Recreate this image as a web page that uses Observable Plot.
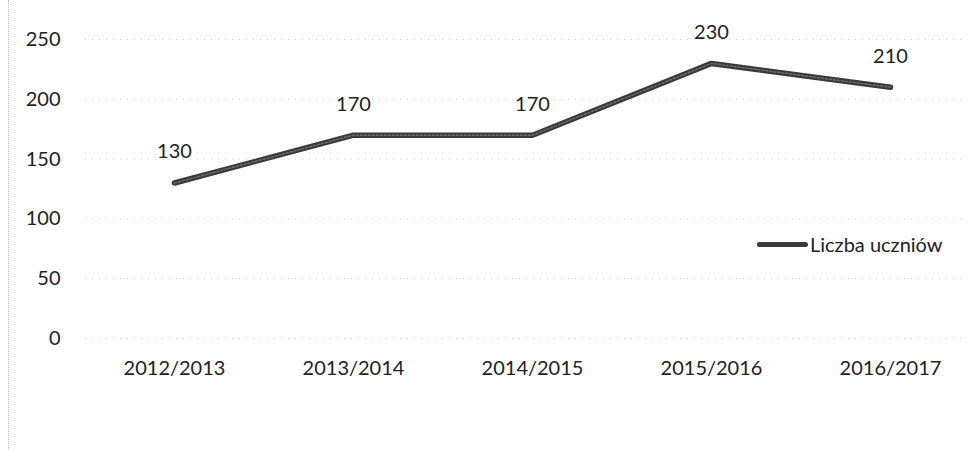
<!DOCTYPE html>
<html><head><meta charset="utf-8">
<script src="https://cdn.jsdelivr.net/npm/d3@7"></script>
<script src="https://cdn.jsdelivr.net/npm/@observablehq/plot@0.6"></script>
<style>
body{margin:0;background:#fff;}
#wrap{position:relative;width:969px;height:450px;font-family:Lato,"Liberation Sans",sans-serif;}
#wrap::before{content:"";position:absolute;left:8px;top:0;bottom:0;border-left:1px dotted #bbb;}
#legend{position:absolute;left:757px;top:232px;display:flex;align-items:center;font-size:20px;color:#222;}
#legend .sw{width:51px;height:5px;background:#3a3a3a;border-radius:3px;margin-right:2px;}
</style></head>
<body><div id="wrap"><div id="legend"><span class="sw"></span><span>Liczba uczniów</span></div></div>
<script>
const years = ["2012/2013","2013/2014","2014/2015","2015/2016","2016/2017"];
const students = [130,170,170,230,210];
const yTicks = [0,50,100,150,200,250];
const seriesName = "Liczba uczniów";
const data = years.map((y,i)=>({year:y, value:students[i]}));
const chart = Plot.plot({
  width:969, height:450,
  marginLeft:85, marginRight:4, marginTop:39, marginBottom:112,
  style:{fontFamily:"Lato, 'Liberation Sans', sans-serif", fontSize:"20px", color:"#222", background:"#fff"},
  x:{type:"point", domain:years, padding:0, insetLeft:88, insetRight:75, label:null},
  y:{domain:[0,250], ticks:yTicks, label:null},
  marks:[
    Plot.gridY(yTicks,{stroke:"#aaa", strokeOpacity:0.6, strokeDasharray:"1,6"}),
    Plot.axisY({ticks:yTicks, tickSize:0, tickPadding:25, label:null, fontSize:20}),
    Plot.axisX({tickSize:0, tickPadding:22, label:null, fontSize:20}),
    Plot.line(data,{x:"year", y:"value", stroke:"#3a3a3a", strokeWidth:5.5, strokeLinecap:"round", strokeLinejoin:"round"}),
    Plot.line(data,{x:"year", y:"value", stroke:"#6a6a6a", strokeWidth:1.5, strokeLinecap:"round", strokeLinejoin:"round", strokeDasharray:"2,2"}),
    Plot.text(data,{x:"year", y:"value", text:d=>String(d.value), dy:-31, fontSize:20, fill:"#222"})
  ]
});
document.getElementById("wrap").prepend(chart);
</script></body></html>
